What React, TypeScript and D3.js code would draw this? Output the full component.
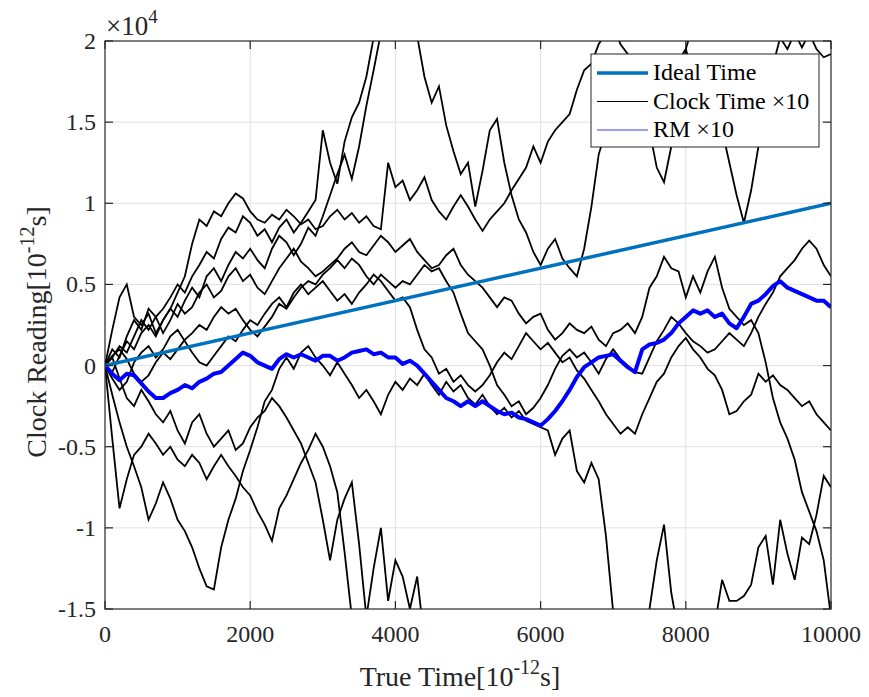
import React, { useEffect, useRef } from "react";
import * as d3 from "d3";

// true time samples [1e-12 s]
const trueTime = [
  0, 100, 200, 300, 400, 500, 600, 700, 800, 900, 1000, 1100, 1200, 1300, 1400, 1500, 1600, 1700, 1800, 1900,
  2000, 2100, 2200, 2300, 2400, 2500, 2600, 2700, 2800, 2900, 3000, 3100, 3200, 3300, 3400, 3500, 3600, 3700, 3800, 3900,
  4000, 4100, 4200, 4300, 4400, 4500, 4600, 4700, 4800, 4900, 5000, 5100, 5200, 5300, 5400, 5500, 5600, 5700, 5800, 5900,
  6000, 6100, 6200, 6300, 6400, 6500, 6600, 6700, 6800, 6900, 7000, 7100, 7200, 7300, 7400, 7500, 7600, 7700, 7800, 7900,
  8000, 8100, 8200, 8300, 8400, 8500, 8600, 8700, 8800, 8900, 9000, 9100, 9200, 9300, 9400, 9500, 9600, 9700, 9800, 9900,
  10000,
];

// ideal clock: end points (x10^4)
const idealX = [0, 10000];
const idealY = [0, 1];

// clock readings x10 (in units of 10^4); a walk stops where it leaves the frame for good
const clockA = [
  0, 0.05, 0.12, 0.08, 0.18, 0.28, 0.22, 0.3, 0.35, 0.42, 0.5, 0.45, 0.55, 0.62, 0.7, 0.66, 0.78, 0.85, 0.82, 0.92,
  0.88, 0.8, 0.84, 0.76, 0.85, 0.9, 0.82, 0.88, 0.95, 1.02, 1.45, 1.25, 1.12, 1.38, 1.53, 1.62, 1.78, 2.02, 2.15, 2.25,
  2.2, 2.3, 2.12, 2.03, 1.78, 1.62, 1.72, 1.48, 1.32, 1.18, 1.25, 0.98, 1.2, 1.45, 1.52, 1.25, 1.05, 0.9, 0.82, 0.7,
  0.62, 0.72, 0.78, 0.66, 0.6, 0.55, 0.72, 0.98, 1.3, 1.45, 1.58, 1.65, 1.72, 1.68, 1.55, 1.45, 1.22, 1.13, 1.35, 1.62,
  1.95, 2.1, 2.25,
];
const clockB = [
  0, -0.04, 0.06, 0.15, 0.1, 0.2, 0.25, 0.18, 0.28, 0.35, 0.45, 0.55, 0.75, 0.9, 0.86, 0.95, 0.92, 1.0, 1.06, 1.03,
  0.95, 0.9, 0.88, 0.93, 0.9, 0.96, 0.92, 0.87, 0.9, 0.84, 0.86, 0.92, 0.96, 0.9, 0.94, 0.88, 0.92, 0.86, 0.84, 1.25,
  1.1, 1.14, 1.02, 1.08, 1.16, 1.02, 0.95, 0.9, 0.98, 1.05, 0.98, 0.9, 0.83, 0.9, 0.95, 1.0, 1.08, 1.15, 1.22, 1.35,
  1.25, 1.38, 1.45, 1.5, 1.55, 1.7, 1.82, 1.86, 1.98, 2.05, 2.1, 1.98, 1.92, 1.85, 1.78, 1.75, 1.82, 1.72, 1.7, 1.88,
  1.95, 1.8, 1.65, 1.62, 1.5, 1.45, 1.25, 1.05, 0.88, 1.08, 1.35, 1.52, 1.85, 2.02, 1.95, 2.05, 1.96, 2.05, 1.95, 1.9,
  1.92,
];
const clockC = [
  0, 0.22, 0.42, 0.5, 0.3, 0.25, 0.32, 0.2, 0.28, 0.35, 0.3, 0.4, 0.48, 0.42, 0.55, 0.6, 0.52, 0.62, 0.7, 0.66,
  0.72, 0.65, 0.6, 0.72, 0.8, 0.76, 0.68, 0.75, 0.85, 0.8, 0.92, 1.05, 1.18, 1.3, 1.15, 1.35, 1.6, 1.82, 2.05, 2.2,
  2.35,
];
const clockD = [
  0, 0.1, 0.05, 0.18, 0.28, 0.22, 0.35, 0.3, 0.2, 0.28, 0.38, 0.32, 0.36, 0.45, 0.5, 0.42, 0.46, 0.55, 0.6, 0.52,
  0.56, 0.48, 0.44, 0.52, 0.6, 0.66, 0.72, 0.64, 0.6, 0.55, 0.58, 0.62, 0.66, 0.72, 0.76, 0.7, 0.68, 0.74, 0.8, 0.76,
  0.7, 0.74, 0.78, 0.7, 0.65, 0.6, 0.62, 0.68, 0.72, 0.62, 0.56, 0.52, 0.48, 0.42, 0.36, 0.42, 0.4, 0.32, 0.26, 0.3,
  0.32, 0.22, 0.16, 0.2, 0.26, 0.22, 0.2, 0.24, 0.16, 0.12, 0.2, 0.22, 0.26, 0.2, 0.3, 0.48, 0.55, 0.67, 0.6, 0.58,
  0.42, 0.55, 0.45, 0.58, 0.67, 0.48, 0.35, 0.3, 0.25, 0.28, 0.2, 0.02, -0.2, -0.35, -0.45, -0.58, -0.78, -0.9, -1.02, -1.2,
  -1.55,
];
const clockE = [
  0, -0.08, -0.15, -0.1, 0.02, 0.08, 0.12, 0.05, 0.1, 0.18, 0.22, 0.15, 0.08, 0.02, 0.0, 0.06, 0.12, 0.18, 0.15, 0.22,
  0.28, 0.25, 0.32, 0.38, 0.42, 0.36, 0.45, 0.5, 0.44, 0.48, 0.52, 0.46, 0.4, 0.44, 0.38, 0.45, 0.5, 0.56, 0.52, 0.46,
  0.4, 0.42, 0.36, 0.22, 0.1, 0.05, -0.05, -0.02, -0.1, -0.06, -0.12, -0.16, -0.12, -0.06, 0.02, 0.08, 0.04, 0.12, 0.2, 0.15,
  0.1, 0.14, 0.08, 0.02, 0.05, -0.03, -0.08, -0.15, -0.22, -0.3, -0.36, -0.42, -0.38, -0.42, -0.3, -0.2, -0.1, -0.05, 0.05, 0.12,
  0.17, 0.1, 0.05, -0.02, -0.06, -0.15, -0.3, -0.28, -0.22, -0.18, -0.05, -0.1, -0.06, -0.12, -0.15, -0.2, -0.25, -0.22, -0.3, -0.35,
  -0.4,
];
const clockF = [
  0, 0.06, 0.1, 0.04, -0.05, -0.1, -0.06, 0.02, 0.08, 0.04, 0.1, 0.16, 0.2, 0.25, 0.22, 0.3, 0.36, 0.32, 0.35, 0.28,
  0.22, 0.18, 0.24, 0.3, 0.38, 0.35, 0.42, 0.48, 0.52, 0.5, 0.56, 0.6, 0.65, 0.6, 0.66, 0.62, 0.55, 0.5, 0.56, 0.52,
  0.48, 0.52, 0.5, 0.56, 0.62, 0.58, 0.6, 0.52, 0.45, 0.32, 0.2, 0.15, 0.1, 0.0, -0.12, -0.18, -0.25, -0.22, -0.3, -0.26,
  -0.2, -0.12, -0.02, 0.06, 0.1, 0.05, 0.08, 0.02, -0.05, 0.04, 0.1, 0.04, 0.0, -0.04, -0.05, 0.05, 0.15, 0.22, 0.3, 0.26,
  0.2, 0.15, 0.12, 0.08, 0.1, 0.15, 0.2, 0.16, 0.12, 0.2, 0.3, 0.38, 0.45, 0.55, 0.6, 0.65, 0.72, 0.77, 0.72, 0.62,
  0.55,
];
const clockG = [
  0, -0.18, -0.35, -0.5, -0.62, -0.75, -0.95, -0.85, -0.72, -0.82, -0.95, -1.02, -1.12, -1.25, -1.36, -1.38, -1.12, -0.95, -0.82, -0.65,
  -0.52, -0.38, -0.22, -0.15, -0.02, 0.05, -0.02, 0.08, 0.12, 0.05, 0.0, -0.06, 0.02, -0.05, -0.12, -0.2, -0.15, -0.22, -0.3, -0.18,
  -0.1, -0.15, -0.08, -0.12, -0.05, -0.12, -0.18, -0.1, -0.16, -0.12, -0.2, -0.24, -0.18, -0.25, -0.3, -0.26, -0.32, -0.28, -0.34, -0.36,
  -0.38, -0.4, -0.55, -0.45, -0.4, -0.65, -0.72, -0.6, -0.7, -1.05, -1.52, -1.7, -1.8, -1.75, -1.65, -1.5, -1.2, -0.98, -1.4, -1.65,
  -1.8, -1.85, -1.75, -1.7, -1.6, -1.32, -1.45, -1.45, -1.42, -1.35, -1.12, -1.05, -1.35, -0.95, -1.16, -1.32, -1.06, -1.1, -0.92, -0.68,
  -0.75,
];
const clockH = [
  0, -0.45, -0.88, -0.7, -0.55, -0.5, -0.42, -0.48, -0.55, -0.5, -0.58, -0.62, -0.55, -0.6, -0.7, -0.62, -0.55, -0.62, -0.68, -0.75,
  -0.8, -0.9, -0.98, -1.08, -0.88, -0.8, -0.7, -0.6, -0.52, -0.42, -0.5, -0.62, -0.78, -1.15, -1.55,
];
const clockI = [
  0, 0.05, -0.08, -0.2, -0.25, -0.15, -0.22, -0.3, -0.35, -0.28, -0.4, -0.48, -0.35, -0.3, -0.42, -0.5, -0.45, -0.4, -0.52, -0.48,
  -0.38, -0.32, -0.28, -0.2, -0.25, -0.32, -0.4, -0.48, -0.6, -0.72, -0.95, -1.2, -0.95, -0.82, -0.72, -1.1, -1.55, -1.25, -1.0, -1.45,
  -1.2, -1.3, -1.5, -1.3, -1.7,
];
const clockSeries = [clockA, clockB, clockC, clockD, clockE, clockF, clockG, clockH, clockI];

// RM x10 (units of 10^4)
const rmReading = [
  0, -0.05, -0.09, -0.05, -0.06, -0.11, -0.16, -0.2, -0.2, -0.17, -0.15, -0.12, -0.14, -0.1, -0.08, -0.05, -0.04, 0.0, 0.04, 0.08,
  0.06, 0.02, 0.0, -0.02, 0.04, 0.07, 0.05, 0.07, 0.05, 0.03, 0.06, 0.06, 0.03, 0.05, 0.08, 0.09, 0.1, 0.07, 0.08, 0.05,
  0.05, 0.01, 0.03, 0.0, -0.05, -0.1, -0.15, -0.2, -0.22, -0.25, -0.22, -0.25, -0.22, -0.25, -0.28, -0.3, -0.29, -0.32, -0.33, -0.35,
  -0.37, -0.33, -0.28, -0.22, -0.15, -0.07, -0.01, 0.02, 0.05, 0.06, 0.07, 0.03, -0.01, -0.04, 0.1, 0.13, 0.14, 0.16, 0.2, 0.26,
  0.3, 0.34, 0.32, 0.34, 0.3, 0.32, 0.26, 0.23, 0.3, 0.38, 0.4, 0.44, 0.49, 0.52, 0.48, 0.46, 0.44, 0.42, 0.4, 0.4,
  0.36,
];

const xTicks = [0, 2000, 4000, 6000, 8000, 10000];
const yTicks = [-1.5, -1, -0.5, 0, 0.5, 1, 1.5, 2];
const legendItems = ["Ideal Time", "Clock Time ×10", "RM ×10"];

const FONT = "'Liberation Serif', 'Times New Roman', serif";
const INK = "#262626";

function App() {
  const svgRef = useRef<SVGSVGElement>(null);

  useEffect(() => {
    document.body.style.margin = "0";
    const svg = d3.select(svgRef.current);
    svg.selectAll("*").remove();

    const left = 105, right = 831, top = 41, bottom = 609;
    const x = d3.scaleLinear().domain([0, 10000]).range([left, right]);
    const y = d3.scaleLinear().domain([-1.5, 2]).range([bottom, top]);

    svg.append("rect").attr("width", 869).attr("height", 697).attr("fill", "#fff");

    // grid
    const grid = svg.append("g").attr("stroke", "#e1e1e1").attr("stroke-width", 1);
    grid.selectAll(".gx").data(xTicks.slice(1, -1)).join("line")
      .attr("x1", (d) => x(d)).attr("x2", (d) => x(d)).attr("y1", top).attr("y2", bottom);
    grid.selectAll(".gy").data(yTicks.slice(1, -1)).join("line")
      .attr("y1", (d) => y(d)).attr("y2", (d) => y(d)).attr("x1", left).attr("x2", right);

    svg.append("clipPath").attr("id", "plotClip")
      .append("rect").attr("x", left).attr("y", top).attr("width", right - left).attr("height", bottom - top);

    const plot = svg.append("g").attr("clip-path", "url(#plotClip)");

    const line = d3.line<number>()
      .x((d, i) => x(trueTime[i]))
      .y((d) => y(d));

    plot.selectAll(".clock").data(clockSeries).join("path")
      .attr("d", (d) => line(d))
      .attr("fill", "none")
      .attr("stroke", "#000")
      .attr("stroke-width", 1.8)
      .attr("stroke-linejoin", "miter");

    plot.append("path")
      .attr("d", line(rmReading))
      .attr("fill", "none")
      .attr("stroke", "#0000ff")
      .attr("stroke-width", 4)
      .attr("stroke-linejoin", "round");

    plot.append("path")
      .attr("d", d3.line<number>().x((d, i) => x(idealX[i])).y((d) => y(d))(idealY))
      .attr("fill", "none")
      .attr("stroke", "#0072BD")
      .attr("stroke-width", 3.5);

    // frame and ticks
    svg.append("rect").attr("x", left).attr("y", top).attr("width", right - left).attr("height", bottom - top)
      .attr("fill", "none").attr("stroke", INK).attr("stroke-width", 1.2);

    const tl = 8;
    const ticks = svg.append("g").attr("stroke", INK).attr("stroke-width", 1.2);
    xTicks.forEach((t) => {
      ticks.append("line").attr("x1", x(t)).attr("x2", x(t)).attr("y1", bottom).attr("y2", bottom - tl);
      ticks.append("line").attr("x1", x(t)).attr("x2", x(t)).attr("y1", top).attr("y2", top + tl);
    });
    yTicks.forEach((t) => {
      ticks.append("line").attr("y1", y(t)).attr("y2", y(t)).attr("x1", left).attr("x2", left + tl);
      ticks.append("line").attr("y1", y(t)).attr("y2", y(t)).attr("x1", right).attr("x2", right - tl);
    });

    svg.selectAll(".xl").data(xTicks).join("text")
      .attr("x", (d) => x(d)).attr("y", 642)
      .attr("text-anchor", "middle")
      .attr("font-family", FONT).attr("font-size", 24).attr("fill", INK)
      .text((d) => String(d));

    svg.selectAll(".yl").data(yTicks).join("text")
      .attr("x", 96).attr("y", (d) => y(d) + 8)
      .attr("text-anchor", "end")
      .attr("font-family", FONT).attr("font-size", 24).attr("fill", INK)
      .text((d) => String(d));

    // exponent
    const ex = svg.append("text").attr("x", 106).attr("y", 35)
      .attr("font-family", FONT).attr("font-size", 27).attr("fill", INK);
    ex.append("tspan").text("×10");
    ex.append("tspan").attr("dy", -12).attr("font-size", 19).text("4");

    // axis labels
    const xl = svg.append("text").attr("x", 460).attr("y", 686)
      .attr("text-anchor", "middle").attr("font-family", FONT).attr("font-size", 28).attr("fill", INK);
    xl.append("tspan").text("True Time[10");
    xl.append("tspan").attr("dy", -12).attr("font-size", 20).text("-12");
    xl.append("tspan").attr("dy", 12).text("s]");

    const yl = svg.append("text")
      .attr("transform", `translate(46,332) rotate(-90)`)
      .attr("text-anchor", "middle").attr("font-family", FONT).attr("font-size", 28).attr("fill", INK);
    yl.append("tspan").text("Clock Reading[10");
    yl.append("tspan").attr("dy", -12).attr("font-size", 20).text("-12");
    yl.append("tspan").attr("dy", 12).text("s]");

    // legend
    const lg = svg.append("g");
    lg.append("rect").attr("x", 591).attr("y", 54).attr("width", 228).attr("height", 93)
      .attr("fill", "#fff").attr("stroke", INK).attr("stroke-width", 1);
    const rowY = d3.scalePoint<string>().domain(legendItems).range([73, 130]);
    const sw = [
      { c: "#0072BD", w: 3.5 },
      { c: "#000", w: 1 },
      { c: "#3a3aff", w: 1.2 },
    ];
    legendItems.forEach((name, i) => {
      const yy = rowY(name) as number;
      lg.append("line").attr("x1", 597).attr("x2", 648).attr("y1", yy).attr("y2", yy)
        .attr("stroke", sw[i].c).attr("stroke-width", sw[i].w);
      lg.append("text").attr("x", 653).attr("y", yy + 7)
        .attr("font-family", FONT).attr("font-size", 24).attr("fill", "#000").text(name);
    });
  }, []);

  return <svg ref={svgRef} width={869} height={697} style={{ display: "block" }} />;
}

export default App;
